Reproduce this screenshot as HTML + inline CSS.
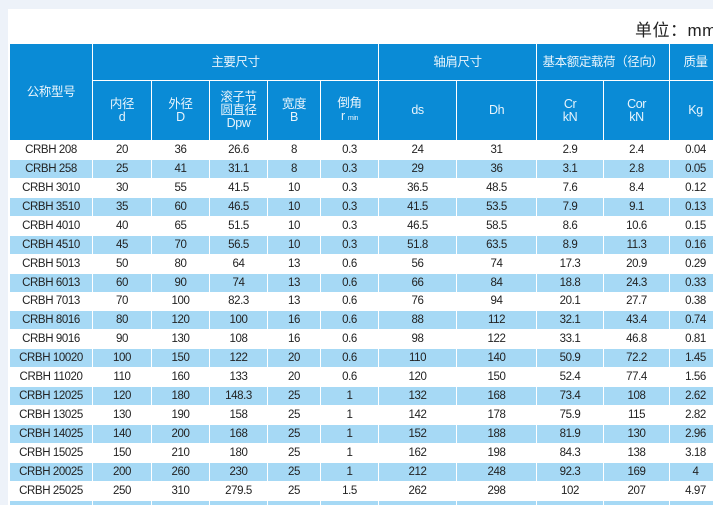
<!DOCTYPE html>
<html><head><meta charset="utf-8"><style>
html,body{margin:0;width:713px;height:505px;overflow:hidden}
body{background:#edf2f9;font-family:"Liberation Sans","Noto Sans CJK SC",sans-serif;position:relative}
.wrap{position:absolute;left:8px;top:9px;width:720px;height:520px;background:#fff}
.unit{position:absolute;left:635px;top:16px;font-size:17px;color:#222;letter-spacing:0.5px;white-space:nowrap}
table{position:absolute;left:9px;top:43px;width:712px;border-collapse:collapse;table-layout:fixed;font-size:11.5px;color:#222;letter-spacing:-0.4px}
td,th{border:1px solid #fff;text-align:center;padding:0;overflow:hidden;white-space:nowrap}
th{background:#0a8bd6;color:#e8f4fc;font-weight:normal;font-size:12.5px;line-height:13px}
tr.d td{height:17.95px}
tr.b td{background:#a6d9f5}
small{font-size:7px}
</style></head><body>
<div class="wrap"></div>
<div class="unit">单位：mm</div>
<table>
<colgroup><col style="width:83px"><col style="width:59px"><col style="width:58px"><col style="width:58px"><col style="width:53px"><col style="width:58px"><col style="width:78px"><col style="width:80px"><col style="width:67px"><col style="width:66px"><col style="width:52px"></colgroup>
<tr><th rowspan="2" style="height:96px">公称型号</th><th colspan="5" style="height:36px">主要尺寸</th><th colspan="2">轴肩尺寸</th><th colspan="2">基本额定载荷（径向）</th><th>质量</th></tr>
<tr><th style="height:59px">内径<br>d</th><th>外径<br>D</th><th>滚子节<br>圆直径<br>Dpw</th><th>宽度<br>B</th><th>倒角<br>r <small>min</small></th><th>ds</th><th>Dh</th><th>Cr<br>kN</th><th>Cor<br>kN</th><th>Kg</th></tr>
<tr class="d"><td>CRBH 208</td><td>20</td><td>36</td><td>26.6</td><td>8</td><td>0.3</td><td>24</td><td>31</td><td>2.9</td><td>2.4</td><td>0.04</td></tr>
<tr class="d b"><td>CRBH 258</td><td>25</td><td>41</td><td>31.1</td><td>8</td><td>0.3</td><td>29</td><td>36</td><td>3.1</td><td>2.8</td><td>0.05</td></tr>
<tr class="d"><td>CRBH 3010</td><td>30</td><td>55</td><td>41.5</td><td>10</td><td>0.3</td><td>36.5</td><td>48.5</td><td>7.6</td><td>8.4</td><td>0.12</td></tr>
<tr class="d b"><td>CRBH 3510</td><td>35</td><td>60</td><td>46.5</td><td>10</td><td>0.3</td><td>41.5</td><td>53.5</td><td>7.9</td><td>9.1</td><td>0.13</td></tr>
<tr class="d"><td>CRBH 4010</td><td>40</td><td>65</td><td>51.5</td><td>10</td><td>0.3</td><td>46.5</td><td>58.5</td><td>8.6</td><td>10.6</td><td>0.15</td></tr>
<tr class="d b"><td>CRBH 4510</td><td>45</td><td>70</td><td>56.5</td><td>10</td><td>0.3</td><td>51.8</td><td>63.5</td><td>8.9</td><td>11.3</td><td>0.16</td></tr>
<tr class="d"><td>CRBH 5013</td><td>50</td><td>80</td><td>64</td><td>13</td><td>0.6</td><td>56</td><td>74</td><td>17.3</td><td>20.9</td><td>0.29</td></tr>
<tr class="d b"><td>CRBH 6013</td><td>60</td><td>90</td><td>74</td><td>13</td><td>0.6</td><td>66</td><td>84</td><td>18.8</td><td>24.3</td><td>0.33</td></tr>
<tr class="d"><td>CRBH 7013</td><td>70</td><td>100</td><td>82.3</td><td>13</td><td>0.6</td><td>76</td><td>94</td><td>20.1</td><td>27.7</td><td>0.38</td></tr>
<tr class="d b"><td>CRBH 8016</td><td>80</td><td>120</td><td>100</td><td>16</td><td>0.6</td><td>88</td><td>112</td><td>32.1</td><td>43.4</td><td>0.74</td></tr>
<tr class="d"><td>CRBH 9016</td><td>90</td><td>130</td><td>108</td><td>16</td><td>0.6</td><td>98</td><td>122</td><td>33.1</td><td>46.8</td><td>0.81</td></tr>
<tr class="d b"><td>CRBH 10020</td><td>100</td><td>150</td><td>122</td><td>20</td><td>0.6</td><td>110</td><td>140</td><td>50.9</td><td>72.2</td><td>1.45</td></tr>
<tr class="d"><td>CRBH 11020</td><td>110</td><td>160</td><td>133</td><td>20</td><td>0.6</td><td>120</td><td>150</td><td>52.4</td><td>77.4</td><td>1.56</td></tr>
<tr class="d b"><td>CRBH 12025</td><td>120</td><td>180</td><td>148.3</td><td>25</td><td>1</td><td>132</td><td>168</td><td>73.4</td><td>108</td><td>2.62</td></tr>
<tr class="d"><td>CRBH 13025</td><td>130</td><td>190</td><td>158</td><td>25</td><td>1</td><td>142</td><td>178</td><td>75.9</td><td>115</td><td>2.82</td></tr>
<tr class="d b"><td>CRBH 14025</td><td>140</td><td>200</td><td>168</td><td>25</td><td>1</td><td>152</td><td>188</td><td>81.9</td><td>130</td><td>2.96</td></tr>
<tr class="d"><td>CRBH 15025</td><td>150</td><td>210</td><td>180</td><td>25</td><td>1</td><td>162</td><td>198</td><td>84.3</td><td>138</td><td>3.18</td></tr>
<tr class="d b"><td>CRBH 20025</td><td>200</td><td>260</td><td>230</td><td>25</td><td>1</td><td>212</td><td>248</td><td>92.3</td><td>169</td><td>4</td></tr>
<tr class="d"><td>CRBH 25025</td><td>250</td><td>310</td><td>279.5</td><td>25</td><td>1.5</td><td>262</td><td>298</td><td>102</td><td>207</td><td>4.97</td></tr>
<tr class="d b"><td></td><td></td><td></td><td></td><td></td><td></td><td></td><td></td><td></td><td></td><td></td></tr>
</table>
</body></html>
